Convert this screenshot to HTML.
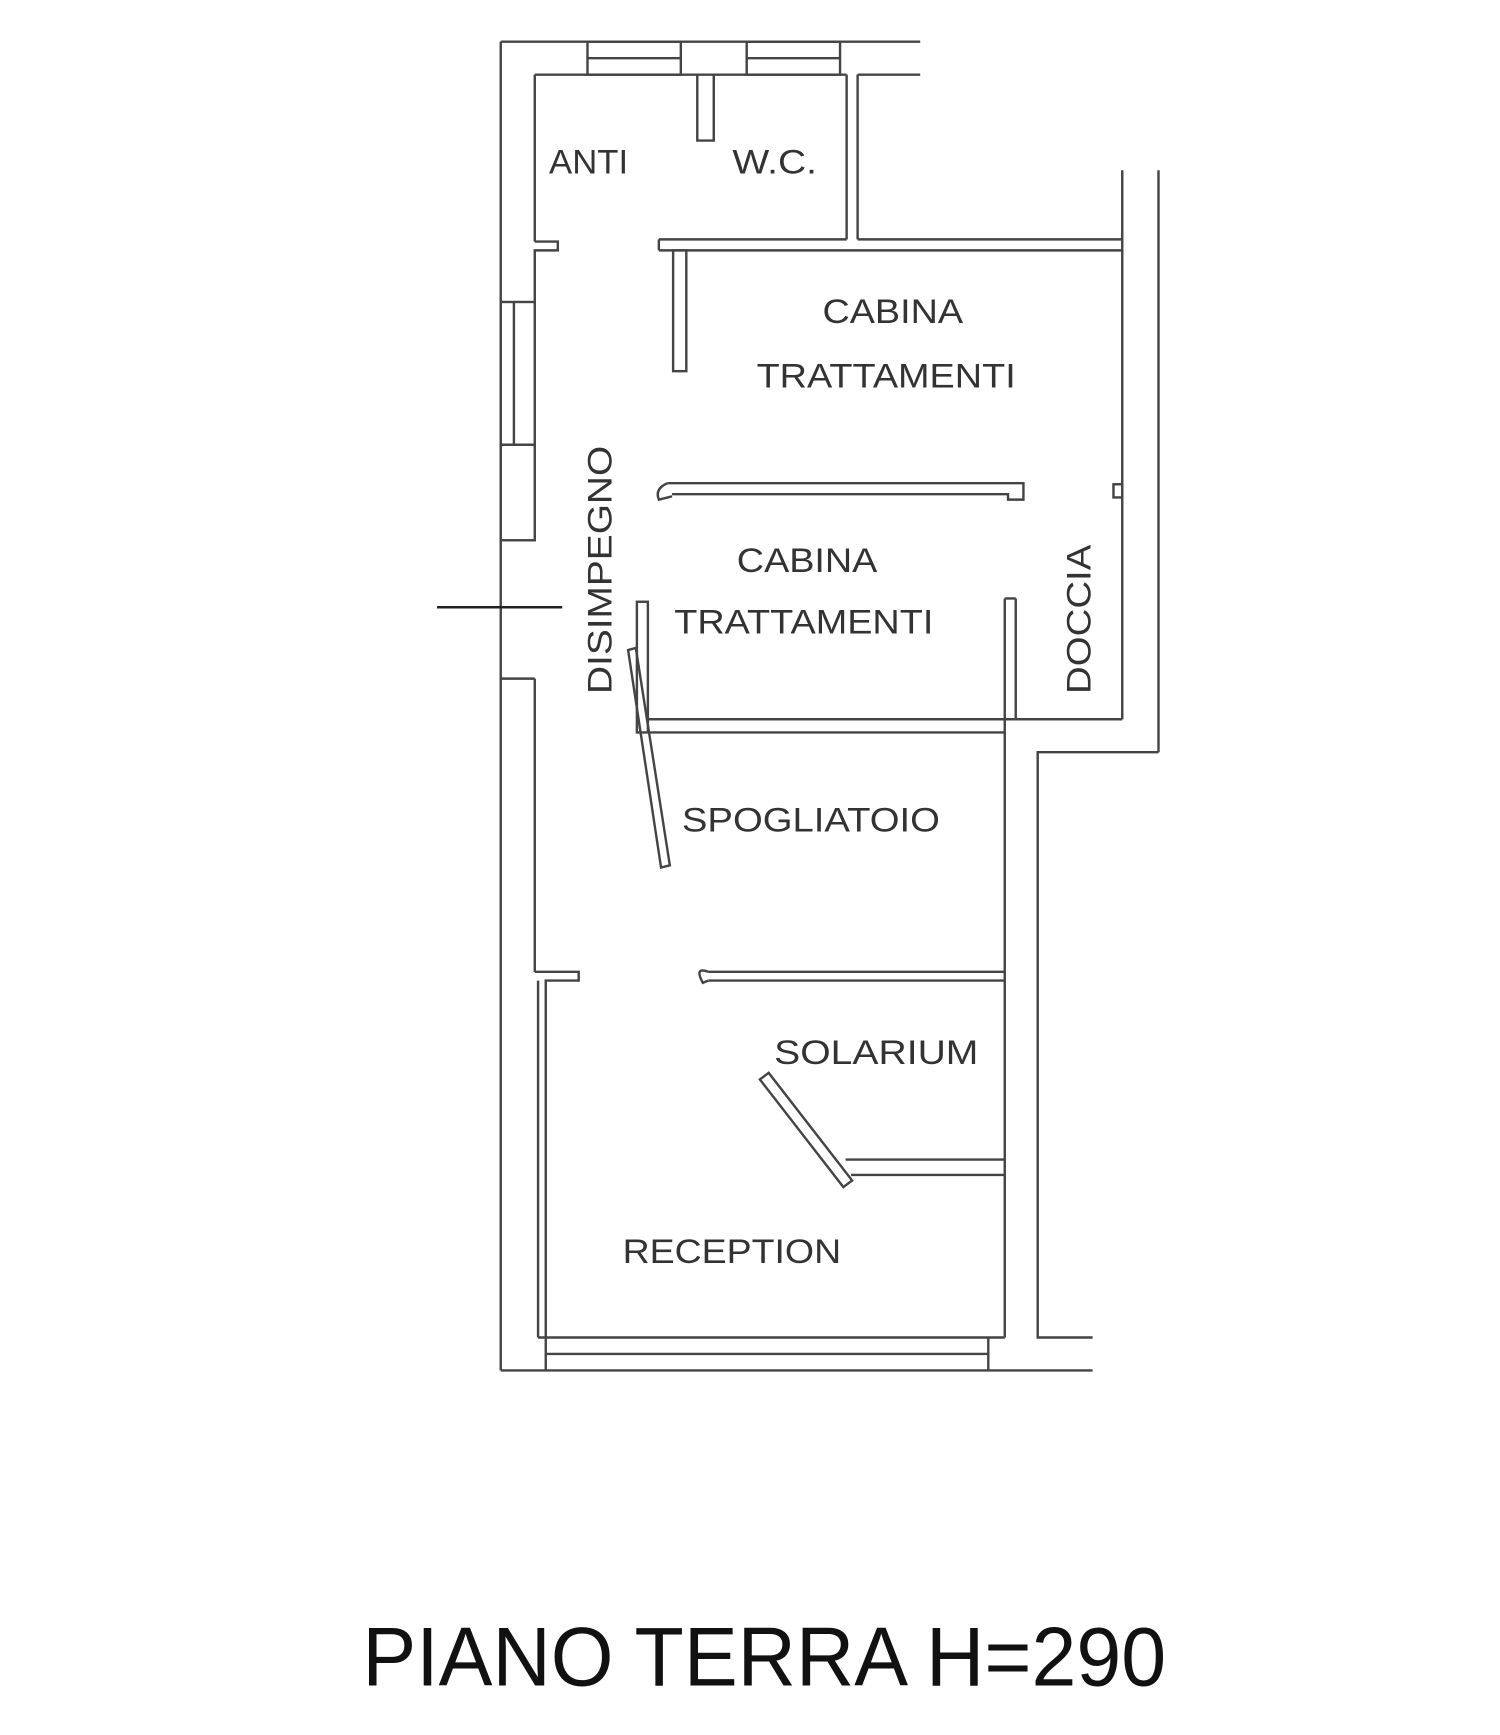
<!DOCTYPE html>
<html><head><meta charset="utf-8"><style>
html,body{margin:0;padding:0;background:#fff;}
svg{display:block;}
text{font-family:"Liberation Sans",sans-serif;fill:#333;}
</style></head><body>
<svg width="1500" height="1735" viewBox="0 0 1366 1580" preserveAspectRatio="none">
<g stroke="#444" stroke-width="2.2" fill="none">
<line x1="456" y1="38" x2="838" y2="38"/>
<line x1="487" y1="68" x2="771" y2="68"/>
<line x1="781" y1="68" x2="838" y2="68"/>
<rect x="535" y="38" width="85" height="30"/>
<line x1="535" y1="53" x2="620" y2="53"/>
<rect x="680" y="38" width="85" height="30"/>
<line x1="680" y1="53" x2="765" y2="53"/>
<polyline points="635,68 635,128 650,128 650,68"/>
<line x1="771" y1="68" x2="771" y2="218"/>
<line x1="781" y1="68" x2="781" y2="218"/>
<line x1="456" y1="38" x2="456" y2="1248"/>
<line x1="487" y1="68" x2="487" y2="220"/>
<polyline points="487,220 508,220 508,228 487,228 487,275"/>
<rect x="456" y="275" width="31" height="130"/>
<line x1="468" y1="275" x2="468" y2="405"/>
<rect x="456" y="405" width="31" height="87"/>
<line x1="456" y1="618" x2="487" y2="618"/>
<line x1="487" y1="618" x2="487" y2="885"/>
<polyline points="487,885 527,885 527,893 497,893 497,1218"/>
<line x1="398" y1="553" x2="512" y2="553" stroke="#222"/>
<line x1="600" y1="218" x2="771" y2="218"/>
<line x1="781" y1="218" x2="1022" y2="218"/>
<line x1="600" y1="228" x2="1022" y2="228"/>
<line x1="600" y1="218" x2="600" y2="228"/>
<rect x="613" y="228" width="12" height="110"/>
<line x1="1022" y1="155" x2="1022" y2="655"/>
<line x1="1055" y1="155" x2="1055" y2="685"/>
<rect x="1014" y="441" width="8" height="12"/>
<polyline points="608,440 932,440 932,455 918,455 918,450 612,450"/>
<path d="M608,440 Q596,445 600,455 L612,452"/>
<rect x="580" y="548" width="10" height="119"/>
<line x1="915" y1="545" x2="915" y2="1218"/>
<line x1="925" y1="545" x2="925" y2="655"/>
<line x1="915" y1="545" x2="925" y2="545"/>
<line x1="590" y1="655" x2="1022" y2="655"/>
<line x1="590" y1="667" x2="915" y2="667"/>
<polygon points="572,592 579,590 610,788 602,790"/>
<line x1="645" y1="885" x2="915" y2="885"/>
<line x1="645" y1="893" x2="915" y2="893"/>
<path d="M645,885 Q632,880 640,895 L645,893"/>
<line x1="770" y1="1056" x2="915" y2="1056"/>
<line x1="775" y1="1070" x2="915" y2="1070"/>
<polygon points="692,983 700,977 776,1075 768,1081"/>
<polyline points="1055,685 945,685 945,1218 995,1218"/>
<line x1="490" y1="1218" x2="915" y2="1218"/>
<line x1="490" y1="893" x2="490" y2="1218"/>
<line x1="497" y1="1233" x2="900" y2="1233"/>
<line x1="456" y1="1248" x2="995" y2="1248"/>
<line x1="497" y1="1218" x2="497" y2="1248"/>
<line x1="900" y1="1218" x2="900" y2="1248"/>
</g>
<g font-size="31">
<text x="500" y="158" textLength="72" lengthAdjust="spacingAndGlyphs">ANTI</text>
<text x="667" y="158" textLength="77" lengthAdjust="spacingAndGlyphs">W.C.</text>
<text x="749" y="294" textLength="128" lengthAdjust="spacingAndGlyphs">CABINA</text>
<text x="689" y="353" textLength="236" lengthAdjust="spacingAndGlyphs">TRATTAMENTI</text>
<text x="671" y="521" textLength="128" lengthAdjust="spacingAndGlyphs">CABINA</text>
<text x="614" y="577" textLength="236" lengthAdjust="spacingAndGlyphs">TRATTAMENTI</text>
<text transform="translate(557,632) rotate(-90)" textLength="226" lengthAdjust="spacingAndGlyphs">DISIMPEGNO</text>
<text transform="translate(993,632) rotate(-90)" textLength="136" lengthAdjust="spacingAndGlyphs">DOCCIA</text>
<text x="621" y="757" textLength="235" lengthAdjust="spacingAndGlyphs">SPOGLIATOIO</text>
<text x="705" y="969" textLength="186" lengthAdjust="spacingAndGlyphs">SOLARIUM</text>
<text x="567" y="1150" textLength="199" lengthAdjust="spacingAndGlyphs">RECEPTION</text>
</g>
<text x="330" y="1535" font-size="76" textLength="732" lengthAdjust="spacingAndGlyphs" style="fill:#111">PIANO TERRA H=290</text>
</svg>
</body></html>
